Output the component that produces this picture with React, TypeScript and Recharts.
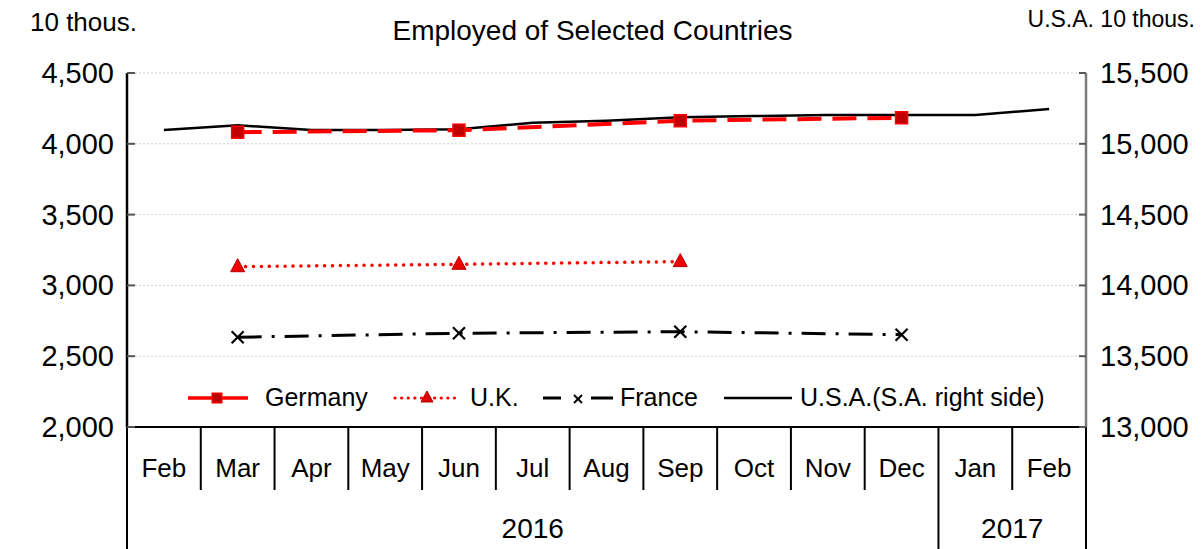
import { LineChart, Line, XAxis, YAxis, CartesianGrid, Legend } from 'recharts';

const W = 1203;
const H = 549;
const PLOT_LEFT = 127;
const PLOT_RIGHT = 1086;
const PLOT_TOP = 73;
const PLOT_BOTTOM = 427;
const FONT = '"Liberation Sans", Arial, sans-serif';

// data (10 thous. persons), quarterly series are null in between
const months = ['Feb', 'Mar', 'Apr', 'May', 'Jun', 'Jul', 'Aug', 'Sep', 'Oct', 'Nov', 'Dec', 'Jan', 'Feb'];
const years = ['2016', '2016', '2016', '2016', '2016', '2016', '2016', '2016', '2016', '2016', '2016', '2017', '2017'];
const germany = [null, 4082, null, null, 4096, null, null, 4163, null, null, 4184, null, null];
const uk = [null, 3132, null, null, 3149, null, null, 3168, null, null, null, null, null];
const france = [null, 2634, null, null, 2662, null, null, 2673, null, null, 2652, null, null];
const usa = [15097, 15131, 15097, 15097, 15102, 15149, 15163, 15187, 15196, 15203, 15203, 15203, 15246];

const leftTicks = [2000, 2500, 3000, 3500, 4000, 4500];
const rightTicks = [13000, 13500, 14000, 14500, 15000, 15500];

const data = months.map((m, i) => ({
  m, year: years[i], germany: germany[i], uk: uk[i], france: france[i], usa: usa[i],
}));

const BW = (PLOT_RIGHT - PLOT_LEFT) / months.length;

const fmt = (v: number) => v.toLocaleString('en-US');

const LeftTick = ({ y, payload }: any) => (
  <g>
    <line x1={PLOT_LEFT} x2={PLOT_LEFT + 8} y1={y} y2={y} stroke="#555" strokeWidth={2} />
    <text x={PLOT_LEFT - 13} y={y} textAnchor="end" dominantBaseline="central"
      fontSize={29} fontFamily={FONT} fill="#000">{fmt(payload.value)}</text>
  </g>
);

const RightTick = ({ y, payload }: any) => (
  <g>
    <line x1={PLOT_RIGHT - 7} x2={PLOT_RIGHT} y1={y} y2={y} stroke="#555" strokeWidth={2} />
    <text x={PLOT_RIGHT + 14} y={y} textAnchor="start" dominantBaseline="central"
      fontSize={29} fontFamily={FONT} fill="#000">{fmt(payload.value)}</text>
  </g>
);

const MonthTick = ({ x, payload }: any) => {
  const i = payload.index;
  const newYear = i === 0 || years[i] !== years[i - 1];
  const left = x - BW / 2;
  let count = 0;
  if (newYear) {
    for (let k = i; k < years.length && years[k] === years[i]; k++) count++;
  }
  return (
    <g>
      <line x1={left} x2={left} y1={PLOT_BOTTOM} y2={newYear ? H : 490} stroke="#000" strokeWidth={2} />
      {i === months.length - 1 && (
        <line x1={x + BW / 2} x2={x + BW / 2} y1={PLOT_BOTTOM} y2={H} stroke="#000" strokeWidth={2} />
      )}
      <text x={x} y={468} textAnchor="middle" dominantBaseline="central"
        fontSize={26} fontFamily={FONT} fill="#000">{payload.value}</text>
      {newYear && (
        <text x={x + ((count - 1) / 2) * BW} y={528} textAnchor="middle" dominantBaseline="central"
          fontSize={28} fontFamily={FONT} fill="#000">{years[i]}</text>
      )}
    </g>
  );
};

const SquareDot = ({ cx, cy, value }: any) => {
  if (value == null || cy == null) return null;
  return <rect x={cx - 6} y={cy - 6} width={12} height={12} fill="#C00000" stroke="#FF0000" strokeWidth={1.5} />;
};

const TriDot = ({ cx, cy, value }: any) => {
  if (value == null || cy == null) return null;
  return <path d={`M${cx},${cy - 8} L${cx + 7},${cy + 5} L${cx - 7},${cy + 5} Z`} fill="#EE0000" stroke="#B00000" strokeWidth={1} />;
};

const XDot = ({ cx, cy, value }: any) => {
  if (value == null || cy == null) return null;
  return (
    <g stroke="#000" strokeWidth={2.2}>
      <line x1={cx - 6} y1={cy - 6} x2={cx + 6} y2={cy + 6} />
      <line x1={cx - 6} y1={cy + 6} x2={cx + 6} y2={cy - 6} />
    </g>
  );
};

const legendItems = [
  { key: 'germany', label: 'Germany', left: 188, width: 60, gap: 17 },
  { key: 'uk', label: 'U.K.', left: 393, width: 68, gap: 9 },
  { key: 'france', label: 'France', left: 543, width: 70, gap: 7 },
  { key: 'usa', label: 'U.S.A.(S.A. right side)', left: 724, width: 68, gap: 8 },
];

const LegendIcon = ({ k, w }: { k: string; w: number }) => {
  const c = w / 2;
  return (
    <svg width={w} height={24} style={{ display: 'block' }}>
      {k === 'germany' && (
        <g>
          <line x1={0} x2={w} y1={12} y2={12} stroke="#FF0000" strokeWidth={3.5} />
          <rect x={c - 6} y={7} width={10} height={10} fill="#C00000" stroke="#FF0000" strokeWidth={1} />
        </g>
      )}
      {k === 'uk' && (
        <g>
          <line x1={2} x2={w - 2} y1={12} y2={12} stroke="#FF0000" strokeWidth={3.2} strokeDasharray="0.1 6.5" strokeLinecap="round" />
          <path d={`M${c},5 L${c + 6},16 L${c - 6},16 Z`} fill="#E00000" stroke="#B00000" strokeWidth={1} />
        </g>
      )}
      {k === 'france' && (
        <g stroke="#000">
          <line x1={0} x2={18} y1={12} y2={12} strokeWidth={3} />
          <line x1={w - 22} x2={w} y1={12} y2={12} strokeWidth={3} />
          <line x1={c - 4} y1={9} x2={c + 4} y2={17} strokeWidth={2} />
          <line x1={c - 4} y1={17} x2={c + 4} y2={9} strokeWidth={2} />
        </g>
      )}
      {k === 'usa' && <line x1={0} x2={w} y1={12} y2={12} stroke="#000" strokeWidth={2.5} />}
    </svg>
  );
};

const renderLegend = () => (
  <div style={{ position: 'relative', width: W, height: 30, fontFamily: FONT, fontSize: 25, color: '#000' }}>
    {legendItems.map(it => (
      <div key={it.key} style={{ position: 'absolute', left: it.left, top: 0, display: 'flex', alignItems: 'center', gap: it.gap, whiteSpace: 'nowrap' }}>
        <LegendIcon k={it.key} w={it.width} />
        <span>{it.label}</span>
      </div>
    ))}
  </div>
);

export default function App() {
  return (
    <div style={{ position: 'absolute', left: 0, top: 0, width: W, height: H, background: '#fff', fontFamily: FONT, overflow: 'hidden' }}>
      <LineChart width={W} height={H} data={data} margin={{ top: PLOT_TOP, right: 0, left: 0, bottom: 0 }}>
        <CartesianGrid vertical={false} stroke="#D0D0D0" strokeDasharray="2 2" />
        <XAxis dataKey="m" height={H - PLOT_BOTTOM} interval={0} tickLine={false} padding={{ left: BW / 2, right: BW / 2 }}
          axisLine={{ stroke: '#000', strokeWidth: 2 }} tick={<MonthTick />} />
        <XAxis xAxisId="top" dataKey="m" orientation="top" height={0} tick={false} tickLine={false}
          axisLine={{ stroke: '#000', strokeWidth: 2.5 }} />
        <YAxis width={PLOT_LEFT} domain={[2000, 4500]} ticks={leftTicks} interval={0} tickLine={false}
          axisLine={{ stroke: '#000', strokeWidth: 2.5 }} tick={<LeftTick />} allowDataOverflow />
        <YAxis yAxisId="right" orientation="right" width={W - PLOT_RIGHT} domain={[13000, 15500]} ticks={rightTicks}
          interval={0} tickLine={false} axisLine={{ stroke: '#7a7a7a', strokeWidth: 2.5 }} tick={<RightTick />} allowDataOverflow />
        <Legend content={renderLegend} layout="vertical" align="center" verticalAlign="middle"
          wrapperStyle={{ left: 0, top: 383, width: W }} />
        <Line dataKey="usa" yAxisId="right" stroke="#000" strokeWidth={2.5} dot={false} isAnimationActive={false} />
        <Line dataKey="france" stroke="#000" strokeWidth={3} strokeDasharray="24 10 3 10" connectNulls
          dot={<XDot />} isAnimationActive={false} />
        <Line dataKey="uk" stroke="#FF0000" strokeWidth={3.5} strokeDasharray="0.1 7.8" strokeLinecap="round" connectNulls
          dot={<TriDot />} isAnimationActive={false} />
        <Line dataKey="germany" stroke="#FF0000" strokeWidth={4} strokeDasharray="24 11" connectNulls
          dot={<SquareDot />} isAnimationActive={false} />
      </LineChart>
      <div style={{ position: 'absolute', left: 30, top: 7, fontSize: 26, color: '#000' }}>10 thous.</div>
      <div style={{ position: 'absolute', left: 0, width: 1185, top: 15, textAlign: 'center', fontSize: 28, color: '#000' }}>
        Employed of Selected Countries
      </div>
      <div style={{ position: 'absolute', right: 8, top: 6, fontSize: 23, color: '#000' }}>U.S.A. 10 thous.</div>
    </div>
  );
}
